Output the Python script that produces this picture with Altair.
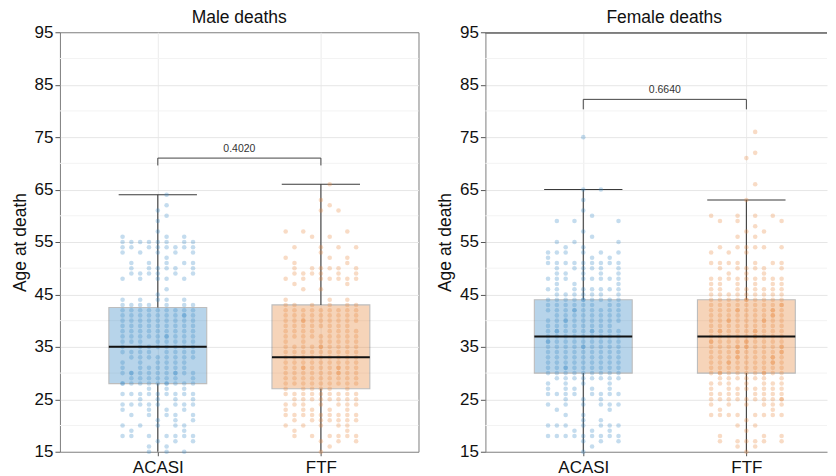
import altair as alt
import numpy as np
import pandas as pd

# ---------------- data ----------------
categories = ["ACASI", "FTF"]
panels = ["Male deaths", "Female deaths"]

# number of deaths at each age (first entry = age 15)
male_acasi_counts = [3, 2, 3, 7, 2, 5, 3, 5, 4, 8, 4, 9, 3, 11, 7, 11, 7, 6, 8, 8,
                     8, 8, 10, 9, 9, 9, 10, 9, 7, 5, 1, 1, 0, 5, 6, 6, 5, 1, 5, 8,
                     8, 3, 1, 0, 1, 1, 1, 1, 0, 1]
male_ftf_counts = [1, 1, 3, 6, 2, 5, 7, 9, 5, 7, 8, 9, 6, 9, 9, 10, 11, 9, 9, 9,
                   10, 7, 9, 8, 8, 10, 9, 9, 6, 3, 0, 2, 2, 7, 6, 6, 2, 3, 1, 4,
                   0, 2, 3, 0, 0, 0, 2, 1, 1, 0, 0, 1]
female_acasi_counts = [1, 1, 3, 9, 3, 7, 2, 2, 2, 6, 3, 8, 5, 4, 8, 9, 10, 9, 9, 9,
                       10, 10, 9, 11, 8, 10, 8, 10, 8, 10, 7, 8, 3, 8, 5, 6, 9, 3, 6, 2,
                       3, 1, 1, 0, 3, 1, 1, 0, 1, 0, 2, 0, 0, 0, 0, 0, 0, 0, 0, 0, 1]
female_ftf_counts = [1, 2, 6, 3, 1, 2, 1, 8, 2, 6, 10, 8, 8, 7, 7, 11, 9, 11, 11, 11,
                     12, 11, 10, 11, 9, 11, 10, 11, 10, 10, 9, 8, 6, 9, 3, 6, 7, 0, 3, 6,
                     0, 2, 2, 1, 3, 4, 0, 0, 1, 0, 0, 1, 0, 0, 0, 0, 1, 1, 0, 0, 0, 1]
first_age = 15

# box statistics (lower whisker, Q1, median, Q3, upper whisker)
male_lower = [15, 15]
male_q1 = [28, 27]
male_median = [35, 33]
male_q3 = [42.5, 43]
male_upper = [64, 66]
female_lower = [15, 15]
female_q1 = [30, 30]
female_median = [37, 37]
female_q3 = [44, 44]
female_upper = [65, 63]

# p-values of the comparison and bracket heights
p_values = ["0.4020", "0.6640"]
bracket_y = [71, 82.2]
bracket_tip = [69.6, 80.3]

y_ticks = [15, 25, 35, 45, 55, 65, 75, 85, 95]
y_minor = [20, 30, 40, 50, 60, 70, 80, 90]

# ---------------- styling ----------------
FONT = "Liberation Sans"
BLUE = "#3b8bc6"
ORANGE = "#e8893f"
BORDER = "#7d7d7d"
SLOT = 0.054
BOX_HALF = 0.3
CAP_HALF = 0.24
PX_PER_UNIT = 163.3


def point_table(counts, xpos):
    rows = []
    for i, n in enumerate(counts):
        age = first_age + i
        if n == 0:
            continue
        if n == 1:
            chosen = [4 if age % 2 else 5]
        elif n == 2:
            chosen = [[3, 5], [4, 6], [2, 4], [1, 7]][age % 4]
        elif n <= 9:
            keys = [((age * 0.7548777 + k * 0.5698403) % 1.0) for k in range(9)]
            order = sorted(range(9), key=lambda k: keys[k])
            chosen = order[:n]
        else:
            chosen = list(range(9)) + [(age * 5 + j * 4) % 9 for j in range(n - 9)]
        for k in chosen:
            rows.append({"x": xpos + (k - 4) * SLOT, "age": age})
    return rows


def panel(title, counts_list, lower, q1, med, q3, upper, pval, by, bt, width,
          open_right=False, title_dx=0):
    xmax = 0.4 + width / PX_PER_UNIT
    pts = []
    for ci, counts in enumerate(counts_list):
        for r in point_table(counts, ci + 1):
            r["group"] = categories[ci]
            pts.append(r)
    pts = pd.DataFrame(pts)

    box = pd.DataFrame({
        "group": categories,
        "x": [1, 2],
        "lower": lower, "q1": q1, "median": med, "q3": q3, "upper": upper,
    })
    box["bl"] = box["x"] - BOX_HALF
    box["br"] = box["x"] + BOX_HALF
    box["cl"] = box["x"] - CAP_HALF
    box["cr"] = box["x"] + CAP_HALF

    minor = pd.DataFrame({"v": y_minor})
    br = pd.DataFrame({"x1": [1], "x2": [2], "y": [by], "tip": [bt], "label": [pval]})
    tips = pd.DataFrame({"x": [1, 2], "y": [by, by], "tip": [bt, bt]})

    xscale = alt.Scale(domain=[0.4, xmax], nice=False, zero=False)
    yscale = alt.Scale(domain=[15, 95], nice=False, zero=False)
    label_expr = f"datum.value == 1 ? '{categories[0]}' : '{categories[1]}'"
    xaxis = alt.Axis(values=[1, 2], labelExpr=label_expr, title=None, grid=True,
                     gridColor="#ebebeb", gridWidth=1, tickSize=4, labelPadding=4,
                     domain=open_right, domainColor=BORDER)
    ygrid_color = {"condition": {"test": "datum.value == 15 || datum.value == 95",
                                 "value": "transparent"},
                   "value": "#e6e6e6"}
    yaxis = alt.Axis(values=y_ticks, title="Age at death", grid=True,
                     gridColor=ygrid_color, gridWidth=1, tickSize=5, labelPadding=2,
                     titlePadding=5, domain=open_right, domainColor=BORDER)

    def X(f):
        return alt.X(f, type="quantitative", scale=xscale, axis=xaxis)

    def Y(f):
        return alt.Y(f, type="quantitative", scale=yscale, axis=yaxis)

    color = alt.Color("group:N", scale=alt.Scale(domain=categories, range=[BLUE, ORANGE]),
                      legend=None)

    minor_grid = alt.Chart(minor).mark_rule(color="#f3f3f3", strokeWidth=1).encode(
        x=alt.value(0), x2=alt.value(width), y=Y("v"))

    whisk_lo = alt.Chart(box).mark_rule(color="#3a3a3a", strokeWidth=1.1).encode(
        x=X("x"), y=Y("lower"), y2="q1")
    whisk_hi = alt.Chart(box).mark_rule(color="#3a3a3a", strokeWidth=1.1).encode(
        x=X("x"), y=Y("q3"), y2="upper")
    caps = alt.Chart(box).mark_rule(color="#3a3a3a", strokeWidth=1.1).encode(
        x=X("cl"), x2="cr", y=Y("upper"))
    boxes = alt.Chart(box).mark_rect(opacity=0.36, stroke="#4a4a4a", strokeWidth=1.1,
                                     strokeOpacity=1).encode(
        x=X("bl"), x2="br", y=Y("q1"), y2="q3", color=color)
    points = alt.Chart(pts).mark_circle(size=21, opacity=0.3).encode(
        x=X("x"), y=Y("age"), color=color)
    medians = alt.Chart(box).mark_rule(color="#111111", strokeWidth=2).encode(
        x=X("bl"), x2="br", y=Y("median"))

    bar = alt.Chart(br).mark_rule(color="#444444", strokeWidth=1).encode(
        x=X("x1"), x2="x2", y=Y("y"))
    tip_rules = alt.Chart(tips).mark_rule(color="#444444", strokeWidth=1).encode(
        x=X("x"), y=Y("tip"), y2="y")
    ptext = alt.Chart(br).mark_text(font=FONT, fontSize=10.5, color="#333333",
                                    baseline="bottom", dy=-4).encode(
        x=alt.X("xm:Q", scale=xscale, axis=xaxis), y=Y("y"), text="label:N"
    ).transform_calculate(xm="(datum.x1 + datum.x2) / 2")

    layers = [minor_grid, whisk_lo, whisk_hi, caps, boxes, points, medians,
              bar, tip_rules, ptext]
    if open_right:
        top_border = alt.Chart(minor).mark_rule(color=BORDER, strokeWidth=1).encode(
            x=alt.value(0), x2=alt.value(width), y=alt.value(0.5))
        layers.append(top_border)

    props = dict(
        width=width, height=420,
        title=alt.TitleParams(title, font=FONT, fontSize=17.5, fontWeight="normal",
                              color="#111111", offset=-3, anchor="middle",
                              frame="group", dx=title_dx))
    if open_right:
        props["view"] = alt.ViewBackground(stroke="transparent")
    return alt.layer(*layers).properties(**props)


left = panel(panels[0], [male_acasi_counts, male_ftf_counts], male_lower, male_q1,
             male_median, male_q3, male_upper, p_values[0], bracket_y[0],
             bracket_tip[0], 359)
right = panel(panels[1], [female_acasi_counts, female_ftf_counts], female_lower,
              female_q1, female_median, female_q3, female_upper, p_values[1],
              bracket_y[1], bracket_tip[1], 342, open_right=True, title_dx=8)

chart = alt.hconcat(left, right, spacing=16).properties(
    padding={"left": 2, "top": 0, "right": 0, "bottom": 0}
).configure_view(stroke=BORDER, strokeWidth=1).configure_axis(
    labelFont=FONT, labelFontSize=17, labelColor="#111111",
    titleFont=FONT, titleFontSize=17.5, titleFontWeight="normal", titleColor="#111111",
    tickColor="#555555",
).configure_concat(spacing=16)

chart.save("out.html", embed_options={"renderer": "svg", "actions": False})
